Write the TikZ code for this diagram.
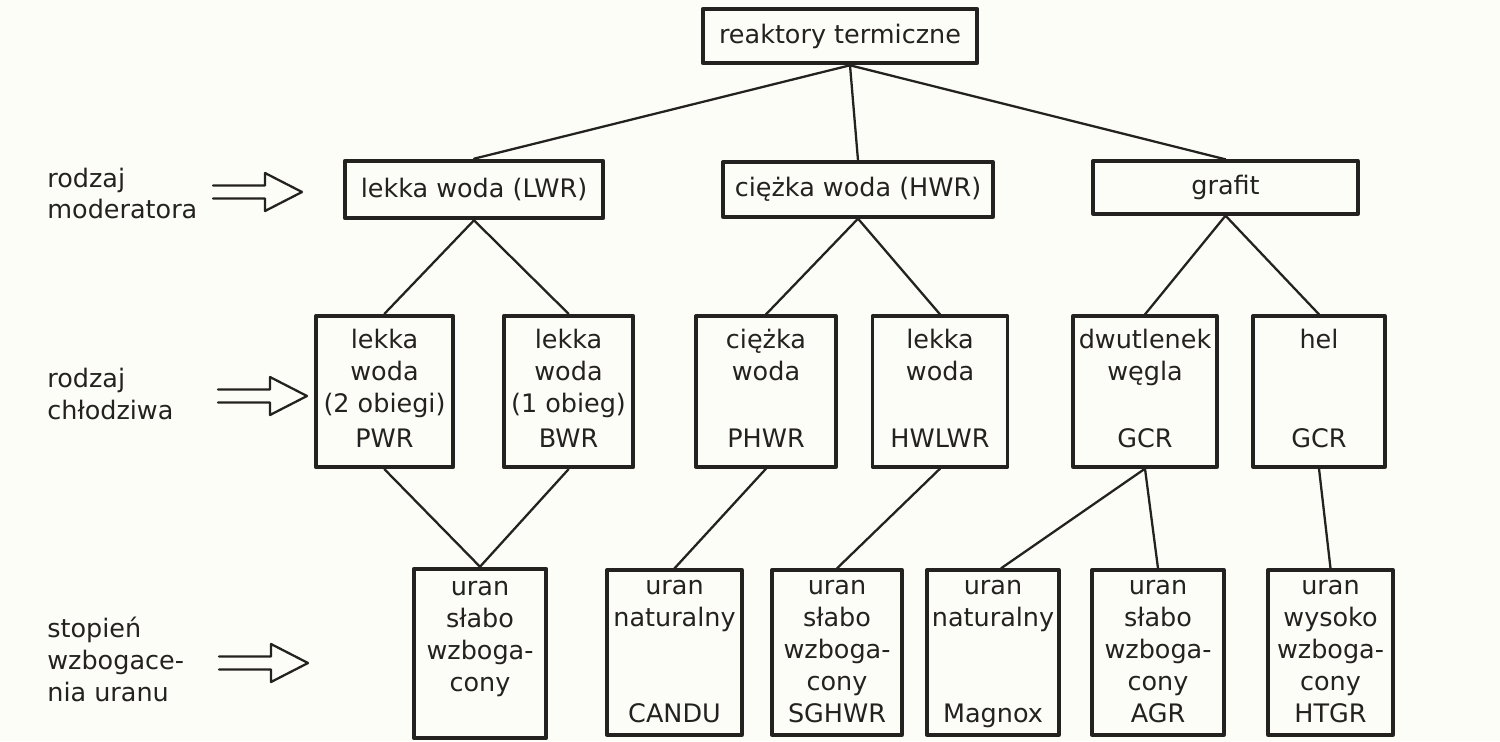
\documentclass[tikz,border=0pt]{standalone}
\usepackage{fontspec}
\setmainfont{DejaVu Sans}
\definecolor{ink}{RGB}{36,34,32}
\definecolor{paper}{RGB}{253,253,248}
\newcommand\txt{\fontsize{14.5pt}{18.2pt}\selectfont}
\tikzset{harrow/.pic={\draw[link] (0,-6.5) -- (52,-6.5) -- (52,-19) -- (89,0) -- (52,19) -- (52,6.5) -- (0,6.5);}}
\begin{document}
\begin{tikzpicture}[x=0.02cm, y=-0.02cm, line join=round, line cap=round,
	box/.style={draw=ink, text=ink, line width=1.9pt, inner sep=0pt, align=center, font=\txt},
	heavybox/.style={box, line width=2.6pt},
	link/.style={draw=ink, line width=1.3pt},
	side/.style={text=ink, align=left, anchor=west, inner sep=0pt, font=\txt}]
	\useasboundingbox (0,0) rectangle (1500,741);
	\fill[paper] (0,0) rectangle (1500,741);
	% moderator
	\node[heavybox, minimum width=5.48cm, minimum height=1.08cm] (rt) at (840,36) {reaktory termiczne};
	\node[heavybox, minimum width=5.16cm, minimum height=1.14cm] (lwr) at (474,189.5) {lekka woda (LWR)};
	\node[box, minimum width=5.4cm, minimum height=1.1cm] (hwr) at (858,189.5) {ciężka woda (HWR)};
	\node[box, minimum width=5.3cm, minimum height=1.06cm] (graf) at (1225.5,187.5) {grafit};
	% chlodziwo
	\node[heavybox, minimum width=2.74cm, minimum height=3.02cm] (pwr) at (384.5,391.5) {\strut lekka\\woda\\(2 obiegi)\\[2pt]PWR\strut};
	\node[heavybox, minimum width=2.58cm, minimum height=3.02cm] (bwr) at (568.5,391.5) {\strut lekka\\woda\\(1 obieg)\\[2pt]BWR\strut};
	\node[box, minimum width=2.8cm, minimum height=3.02cm] (phwr) at (766,391.5) {\strut ciężka\\woda\\~\\[2pt]PHWR\strut};
	\node[box, minimum width=2.7cm, minimum height=3.02cm] (hwlwr) at (940,391.5) {\strut lekka\\woda\\~\\[2pt]HWLWR\strut};
	\node[box, minimum width=2.88cm, minimum height=3.02cm] (gcra) at (1145,391.5) {\strut dwutlenek\\węgla\\~\\[2pt]GCR\strut};
	\node[box, minimum width=2.64cm, minimum height=3.02cm] (gcrb) at (1319,391.5) {\strut hel\\~\\~\\[2pt]GCR\strut};
	% paliwo
	\node[heavybox, minimum width=2.64cm, minimum height=3.38cm] (usl) at (480,653.5) {\strut uran\\słabo\\wzboga-\\cony\\~\strut};
	\node[box, minimum width=2.7cm, minimum height=3.3cm] (candu) at (674.5,652.5) {\strut uran\\naturalny\\~\\~\\CANDU\strut};
	\node[box, minimum width=2.6cm, minimum height=3.3cm] (sghwr) at (837,652.5) {\strut uran\\słabo\\wzboga-\\cony\\SGHWR\strut};
	\node[box, minimum width=2.64cm, minimum height=3.3cm] (magnox) at (993,652.5) {\strut uran\\naturalny\\~\\~\\Magnox\strut};
	\node[box, minimum width=2.64cm, minimum height=3.3cm] (agr) at (1158,652.5) {\strut uran\\słabo\\wzboga-\\cony\\AGR\strut};
	\node[box, minimum width=2.5cm, minimum height=3.3cm] (htgr) at (1330.5,652.5) {\strut uran\\wysoko\\wzboga-\\cony\\HTGR\strut};
	% polaczenia
	\coordinate (hub) at ([xshift=0.2cm]rt.south);
	\draw[link] (hub) -- (lwr.north) (hub) -- (hwr.north) (hub) -- (graf.north);
	\draw[link] (pwr.north) -- (lwr.south) -- (bwr.north);
	\draw[link] (phwr.north) -- (hwr.south) -- (hwlwr.north);
	\draw[link] (gcra.north) -- (graf.south) -- (gcrb.north);
	\draw[link] (pwr.south) -- (usl.north) -- (bwr.south);
	\draw[link] (phwr.south) -- (candu.north);
	\draw[link] (hwlwr.south) -- (sghwr.north);
	\draw[link] ([xshift=0.16cm]magnox.north) -- (gcra.south) -- (agr.north);
	\draw[link] (gcrb.south) -- (htgr.north);
	% opisy z lewej
	\node[side] (moder) at (47,193.5) {rodzaj\\moderatora};
	\node[side] (chlodz) at (47,394) {rodzaj\\chłodziwa};
	\node[side] (stopien) at (47,659) {stopień\\wzbogace-\\nia uranu};
	\pic at (213,192) {harrow};
	\pic at (218,396) {harrow};
	\pic at (219,663) {harrow};
\end{tikzpicture}
\end{document}
